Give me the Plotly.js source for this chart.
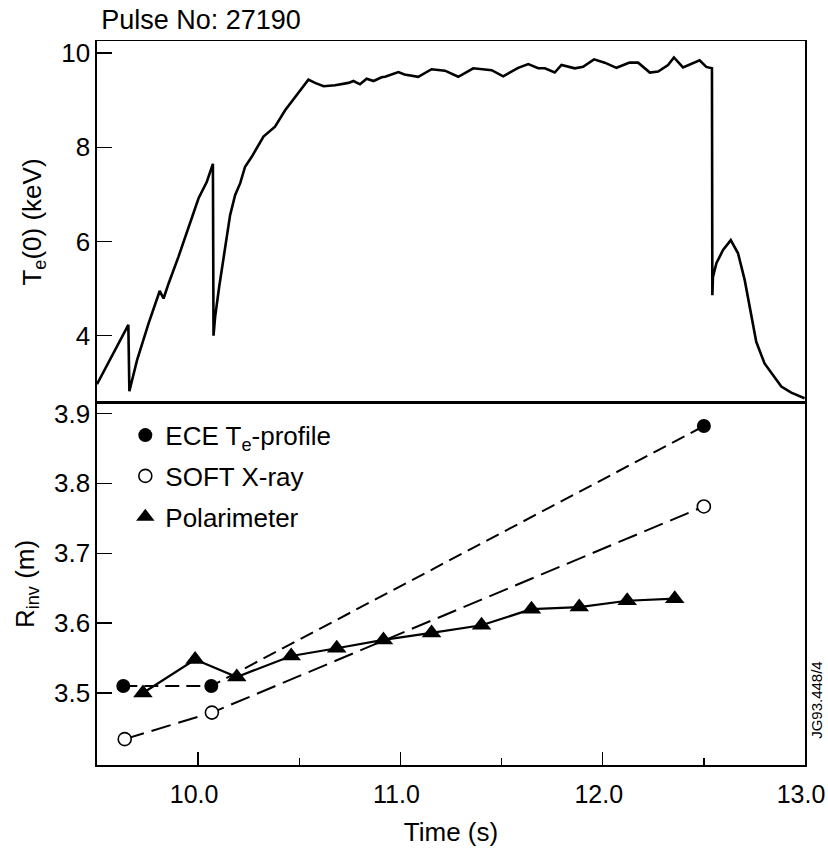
<!DOCTYPE html>
<html>
<head>
<meta charset="utf-8">
<script src="https://cdn.plot.ly/plotly-3.0.1.min.js"></script>
<style>html,body{margin:0;padding:0;background:#fff;}</style>
</head>
<body>
<div id="chart" style="width:828px;height:860px;"></div>
<script>
// ---- Top panel: central electron temperature Te(0) vs time ----
const teTime = [9.500, 9.655, 9.660, 9.698, 9.755, 9.810, 9.829, 9.854, 9.903, 9.977,
  10.002, 10.043, 10.073, 10.076, 10.084, 10.104, 10.131, 10.158, 10.183, 10.208,
  10.232, 10.265, 10.323, 10.380, 10.430, 10.479, 10.545, 10.578, 10.620, 10.677,
  10.743, 10.768, 10.800, 10.833, 10.867, 10.907, 10.924, 10.990, 11.020, 11.088,
  11.154, 11.220, 11.286, 11.360, 11.451, 11.508, 11.582, 11.632, 11.681, 11.714,
  11.763, 11.796, 11.862, 11.903, 11.957, 12.010, 12.068, 12.133, 12.175, 12.233,
  12.274, 12.323, 12.352, 12.397, 12.438, 12.479, 12.512, 12.540, 12.542, 12.545,
  12.562, 12.595, 12.633, 12.669, 12.702, 12.735, 12.759, 12.800, 12.850, 12.883,
  12.932, 12.998];
const teKeV = [2.97, 4.23, 2.82, 3.48, 4.26, 4.95, 4.79, 5.11, 5.68, 6.60,
  6.92, 7.27, 7.65, 4.00, 4.40, 5.04, 5.82, 6.56, 6.99, 7.24,
  7.59, 7.80, 8.23, 8.44, 8.79, 9.07, 9.44, 9.37, 9.30, 9.32,
  9.37, 9.41, 9.34, 9.46, 9.41, 9.49, 9.50, 9.60, 9.55, 9.50,
  9.66, 9.63, 9.50, 9.68, 9.64, 9.51, 9.69, 9.77, 9.68, 9.68,
  9.59, 9.75, 9.68, 9.71, 9.87, 9.80, 9.69, 9.80, 9.80, 9.59,
  9.61, 9.75, 9.91, 9.70, 9.77, 9.85, 9.71, 9.68, 4.86, 5.25,
  5.54, 5.82, 6.03, 5.75, 5.18, 4.40, 3.87, 3.41, 3.10, 2.92,
  2.79, 2.67];

// ---- Bottom panel: inversion radius ----
const eceTime = [9.630, 10.065, 12.500];
const eceR    = [3.510, 3.510, 3.882];
const sxrTime = [9.637, 10.068, 12.500];
const sxrR    = [3.434, 3.472, 3.767];
const polTime = [9.727, 9.985, 10.191, 10.460, 10.685, 10.916, 11.154, 11.401, 11.648, 11.884, 12.121, 12.356];
const polR    = [3.500, 3.548, 3.523, 3.553, 3.564, 3.576, 3.586, 3.597, 3.620, 3.623, 3.632, 3.635];

const seriesNames = ['ECE T<sub>e</sub>-profile', 'SOFT X-ray', 'Polarimeter'];
const xTickVals = [10, 11, 12, 13];
const rTickVals = [3.5, 3.6, 3.7, 3.8, 3.9];
const teTickVals = [4, 6, 8, 10];

const FONT = 'Liberation Sans, Arial, Helvetica, sans-serif';
const FS = 26;
const K = '#000000';

const traces = [
  {x: teTime, y: teKeV, xaxis: 'x2', yaxis: 'y2', mode: 'lines',
   line: {color: K, width: 2.6}, showlegend: false, hoverinfo: 'skip'},
  // lines
  {x: eceTime, y: eceR, mode: 'lines', line: {color: K, width: 2, dash: '14px,7px'},
   showlegend: false, hoverinfo: 'skip'},
  {x: sxrTime, y: sxrR, mode: 'lines', line: {color: K, width: 2, dash: '20px,8px'},
   showlegend: false, hoverinfo: 'skip'},
  {x: polTime, y: polR, mode: 'lines', line: {color: K, width: 2.2},
   showlegend: false, hoverinfo: 'skip'},
  // markers (also legend)
  {x: eceTime, y: eceR, mode: 'markers', name: seriesNames[0], legendgroup: 'a',
   marker: {symbol: 'circle', size: 14, color: K, line: {width: 0}}},
  {x: sxrTime, y: sxrR, mode: 'markers', name: seriesNames[1], legendgroup: 'b',
   marker: {symbol: 'circle', size: 13, color: '#fff', line: {color: K, width: 1.6}}},
  {x: polTime, y: polR, mode: 'markers', name: seriesNames[2], legendgroup: 'c',
   marker: {symbol: 'triangle-up', size: 17, color: K, line: {width: 0}}}
];

const layout = {
  width: 828, height: 860,
  margin: {l: 97, r: 23, t: 41, b: 95, pad: 0},
  paper_bgcolor: '#fff', plot_bgcolor: '#fff',
  font: {family: FONT, size: FS, color: K},
  title: {text: 'Pulse No: 27190', font: {family: FONT, size: FS + 1, color: K},
          xref: 'paper', x: 0.006, xanchor: 'left', yref: 'container', y: 0.977, yanchor: 'middle'},
  showlegend: true,
  legend: {x: 0.04, y: 0.488, xanchor: 'left', yanchor: 'top', bgcolor: 'rgba(0,0,0,0)',
           font: {family: FONT, size: FS, color: K}, traceorder: 'grouped', tracegroupgap: 4,
           itemsizing: 'trace'},
  xaxis: {domain: [0, 1], anchor: 'y', range: [9.5, 13.0], tickmode: 'array', tickvals: xTickVals,
          tickformat: '.1f', ticks: 'inside', ticklen: 13, tickwidth: 1.5, tickcolor: K,
          tickfont: {family: FONT, size: 25, color: K},
          minor: {ticks: 'inside', dtick: 0.5, tick0: 9.5, ticklen: 7, tickwidth: 1.3, tickcolor: K, showgrid: false},
          ticklabelstandoff: 6, ticklabelshift: -4, ticklabeloverflow: 'allow',
          showline: true, linecolor: K, linewidth: 1.6, mirror: true, showgrid: false, zeroline: false,
          title: {text: 'Time (s)', font: {family: FONT, size: FS, color: K}, standoff: 16}},
  yaxis: {domain: [0, 0.5], anchor: 'x', range: [3.397, 3.915], tickmode: 'array',
          tickvals: rTickVals, tickformat: '.1f', ticklabeloverflow: 'allow',
          ticks: 'inside', ticklen: 15, tickwidth: 1.5, tickcolor: K,
          showline: true, linecolor: K, linewidth: 1.6, mirror: true, showgrid: false, zeroline: false,
          title: {text: 'R<sub>inv</sub> (m)', font: {family: FONT, size: FS, color: K}, standoff: 12}},
  xaxis2: {domain: [0, 1], anchor: 'y2', matches: 'x', range: [9.5, 13.0], showticklabels: false, ticks: '',
           showline: true, linecolor: K, linewidth: 1.3, mirror: true, showgrid: false, zeroline: false},
  yaxis2: {domain: [0.5, 1], anchor: 'x2', range: [2.57, 10.26], tickmode: 'array', tickvals: teTickVals,
           ticks: 'inside', ticklen: 15, tickwidth: 1.5, tickcolor: K, ticklabeloverflow: 'allow',
           showline: true, linecolor: K, linewidth: 1.6, mirror: true, showgrid: false, zeroline: false,
           title: {text: 'T<sub>e</sub>(0) (keV)', font: {family: FONT, size: FS, color: K}, standoff: 12}},
  annotations: [
    {text: 'JG93.448/4', xref: 'paper', yref: 'paper', x: 1.0, xshift: 12, y: 0.09,
     xanchor: 'center', yanchor: 'middle', textangle: -90, showarrow: false,
     font: {family: FONT, size: 15, color: K}}
  ]
};

Plotly.newPlot('chart', traces, layout, {displayModeBar: false, staticPlot: true});
</script>
</body>
</html>
